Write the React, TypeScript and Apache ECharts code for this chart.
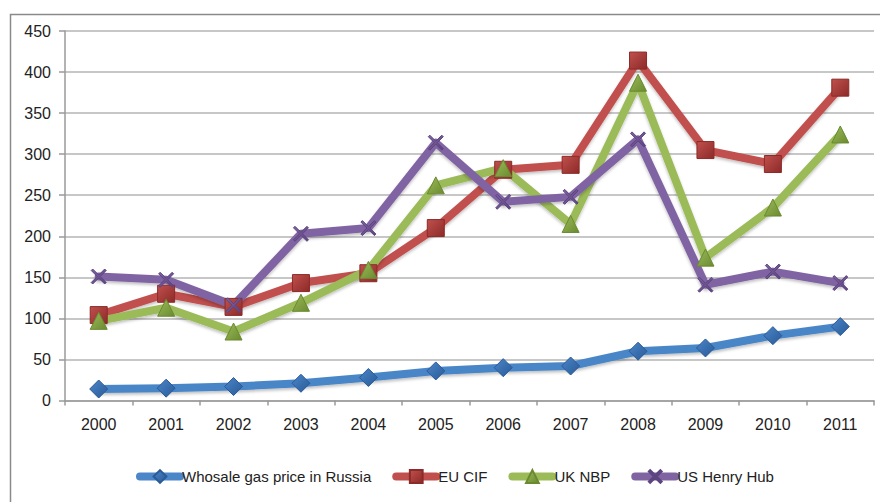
import React, { useEffect, useRef } from "react";
import * as echarts from "echarts";

const years = ["2000","2001","2002","2003","2004","2005","2006","2007","2008","2009","2010","2011"];
const russia = [14, 15, 17, 21, 28, 36, 40, 42, 60, 64, 79, 90];
const euCif = [104, 130, 114, 143, 155, 210, 281, 287, 414, 305, 288, 381];
const ukNbp = [97, 113, 84, 119, 159, 262, 283, 215, 387, 174, 235, 324];
const usHenry = [151, 147, 116, 203, 210, 314, 242, 248, 318, 141, 157, 143];
const seriesNames = ["Whosale gas price in Russia", "EU CIF", "UK NBP", "US Henry Hub"];

const X_SYMBOL = "path://M0,2 L2,0 L10,8 L18,0 L20,2 L12,10 L20,18 L18,20 L10,12 L2,20 L0,18 L8,10 Z";

export default function App() {
  const ref = useRef<HTMLDivElement>(null);
  useEffect(() => {
    if (!ref.current) return;
    const chart = echarts.init(ref.current, null, { renderer: "svg" });
    const font = "Liberation Sans";
    const mk = (name: string, data: number[], color: string, dark: string, symbol: string, size: number) => ({
      name,
      type: "line",
      data,
      symbol,
      symbolSize: size,
      lineStyle: { color, width: 8, cap: "round", join: "round", shadowColor: "rgba(0,0,0,0.25)", shadowBlur: 3, shadowOffsetY: 2 },
      itemStyle: {
        color: new echarts.graphic.LinearGradient(0, 0, 1, 1, [
          { offset: 0, color },
          { offset: 1, color: dark },
        ]),
        borderColor: dark,
        borderWidth: 1,
      },
      emphasis: { disabled: true },
    });
    chart.setOption({
      animation: false,
      graphic: [
        {
          type: "rect",
          shape: { x: 10.5, y: 14.5, width: 900, height: 600 },
          style: { fill: "none", stroke: "#8a8a8a", lineWidth: 1.5 },
          silent: true,
        },
      ],
      grid: { left: 65, top: 31, right: 6, bottom: 101.5 },
      xAxis: {
        type: "category",
        data: years,
        boundaryGap: true,
        axisLine: { lineStyle: { color: "#9a9a9a", width: 1.5 } },
        axisTick: { show: true, length: 5, lineStyle: { color: "#9a9a9a", width: 1.5 } },
        axisLabel: { color: "#222", fontSize: 16, fontFamily: font, margin: 16 },
      },
      yAxis: {
        type: "value",
        min: 0,
        max: 450,
        interval: 50,
        axisLine: { show: true, lineStyle: { color: "#9a9a9a", width: 1.5 } },
        axisTick: { show: true, length: 6, lineStyle: { color: "#9a9a9a", width: 1.5 } },
        axisLabel: { color: "#222", fontSize: 16, fontFamily: font, margin: 14 },
        splitLine: { lineStyle: { color: "#b4b4b4", width: 1.5 } },
      },
      legend: {
        bottom: 13,
        left: 131,
        itemWidth: 40,
        itemHeight: 16,
        itemGap: 21,
        lineStyle: { width: 8, cap: "round" },
        textStyle: { color: "#222", fontSize: 15, fontFamily: font, padding: [0, 0, 0, -3] },
        data: seriesNames,
      },
      series: [
        mk(seriesNames[0], russia, "#4a86c8", "#2a5a98", "diamond", 18),
        mk(seriesNames[1], euCif, "#c0504d", "#8c2a28", "rect", 17),
        mk(seriesNames[2], ukNbp, "#9bbb59", "#6a8a30", "triangle", 17),
        mk(seriesNames[3], usHenry, "#8064a2", "#5c4480", X_SYMBOL, 15),
      ],
    });
    return () => chart.dispose();
  }, []);
  return (
    <div
      ref={ref}
      style={{ position: "fixed", left: 0, top: 0, width: 880, height: 502, background: "#fff" }}
    />
  );
}
